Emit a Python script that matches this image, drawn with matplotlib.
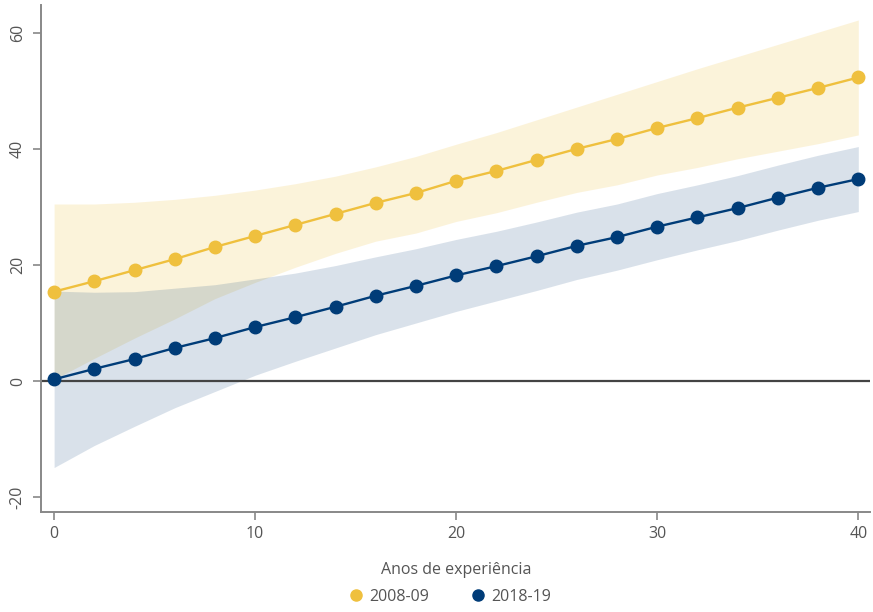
import matplotlib
matplotlib.use("Agg")
import matplotlib.pyplot as plt
from matplotlib.lines import Line2D

plt.rcParams['font.family'] = ['Open Sans', 'DejaVu Sans']

# anos de experiencia
anos = [0, 2, 4, 6, 8, 10, 12, 14, 16, 18, 20, 22, 24, 26, 28, 30, 32, 34, 36, 38, 40]

# 2008-09
y_2008 = [15.4, 17.2, 19.1, 21.0, 23.1, 25.0, 26.9, 28.8, 30.7, 32.4, 34.5,
          36.2, 38.1, 40.0, 41.7, 43.6, 45.3, 47.1, 48.8, 50.5, 52.3]
hi_2008 = [30.5, 30.5, 30.8, 31.3, 32.0, 32.9, 34.0, 35.3, 36.9, 38.7, 40.8,
           42.8, 45.0, 47.2, 49.4, 51.6, 53.8, 55.9, 58.0, 60.1, 62.2]
lo_2008 = [0.3, 3.9, 7.4, 10.7, 14.2, 17.0, 19.6, 22.0, 24.1, 25.5, 27.5,
           29.0, 30.8, 32.5, 33.8, 35.5, 36.8, 38.3, 39.6, 40.9, 42.4]

# 2018-19
y_2018 = [0.3, 2.1, 3.8, 5.7, 7.4, 9.3, 11.0, 12.8, 14.7, 16.4, 18.2,
          19.8, 21.5, 23.3, 24.8, 26.6, 28.2, 29.8, 31.6, 33.3, 34.8]
hi_2018 = [15.5, 15.3, 15.4, 16.0, 16.6, 17.6, 18.6, 19.9, 21.4, 22.8, 24.4,
           25.8, 27.4, 29.1, 30.5, 32.3, 33.8, 35.4, 37.2, 38.9, 40.4]
lo_2018 = [-14.9, -11.1, -7.8, -4.6, -1.8, 1.0, 3.4, 5.7, 8.0, 10.0, 12.0,
           13.8, 15.6, 17.5, 19.1, 20.9, 22.6, 24.2, 26.0, 27.7, 29.2]

labels = ['2008-09', '2018-19']
xticks = [0, 10, 20, 30, 40]
yticks = [-20, 0, 20, 40, 60]

amarelo = '#efc03e'
azul = '#003c78'
cinza = '#555555'

fig = plt.figure(figsize=(8.73, 6.12), dpi=100)
ax = fig.add_axes([0.047, 0.163, 0.950, 0.829])

ax.fill_between(anos, lo_2008, hi_2008, color=amarelo, alpha=0.19, lw=0)
ax.fill_between(anos, lo_2018, hi_2018, color=azul, alpha=0.15, lw=0)
ax.axhline(0, color='#444444', lw=1.6, zorder=2)
ax.plot(anos, y_2008, '-o', color=amarelo, lw=1.7, ms=9, zorder=3)
ax.plot(anos, y_2018, '-o', color=azul, lw=1.7, ms=9, zorder=3)

ax.set_xlim(-0.65, 40.6)
ax.set_ylim(-22.6, 64.8)
ax.set_xticks(xticks)
ax.set_yticks(yticks)
ax.set_yticklabels([str(v) for v in yticks], rotation=90, va='center')

for s in ['top', 'right']:
    ax.spines[s].set_visible(False)
for s in ['left', 'bottom']:
    ax.spines[s].set_color('#888888')
    ax.spines[s].set_linewidth(1.4)
ax.tick_params(colors='#888888', labelcolor=cinza, labelsize=11.5, length=6, width=1.2)
ax.tick_params(axis='x', pad=4)
ax.tick_params(axis='y', pad=5)

ax.set_xlabel('Anos de experiência', color=cinza, fontsize=11.5, labelpad=14)

handles = [Line2D([], [], ls='', marker='o', color=amarelo, ms=8),
           Line2D([], [], ls='', marker='o', color=azul, ms=8)]
fig.legend(handles, labels, loc='center', bbox_to_anchor=(0.515, 0.025), ncol=2,
           frameon=False, fontsize=11.5, labelcolor=cinza, handletextpad=0.3,
           columnspacing=2.6, handlelength=1.0)

fig.savefig('out.png', dpi=100)
